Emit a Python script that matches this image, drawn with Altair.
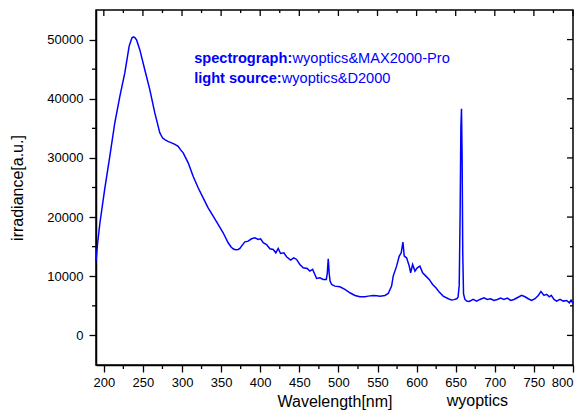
import altair as alt
import pandas as pd

wavelength = [190, 192, 195, 201, 207.7, 214, 220.5, 226.9, 232.4, 236, 238, 240, 242, 246, 252.4, 258.8,
              265.2, 271.6, 275, 278, 282, 286.6, 291, 295, 298, 301.5, 307.9, 314.2, 320.6, 327, 333.4,
              339.8, 346.2, 352.6, 359, 363, 365.4, 368, 371.8, 374, 376.1, 380.4, 384.6, 388.9, 393.2,
              397.4, 400.5, 403.8, 408.1, 412.4, 416.6, 420, 423, 426, 430.3, 433.7, 438.8, 443, 446.5,
              450.7, 455, 460.1, 463.5, 467, 469.9, 472.1, 476.3, 480.5, 484.5, 485.8, 487, 488.2, 489.3,
              491.3, 495.5, 501.9, 508.3, 514.7, 521.1, 527.5, 533.9, 538.1, 544.5, 549, 553.1, 559.5,
              563.7, 568, 570.1, 574.4, 577.8, 580.3, 582.5, 584.2, 587.2, 590.6, 592.4, 594.9, 597.9,
              600.8, 604.2, 607.7, 611.9, 616.1, 620.5, 624.7, 628.9, 634, 640.5, 644.8, 648, 651.2, 653,
              654.5, 655.6, 656.6, 657.4, 658.2, 659, 660, 661.8, 664, 667.3, 672.4, 676.7, 681, 686.1,
              690.3, 694.7, 698.9, 703.2, 707.4, 711.7, 716, 720.3, 724.5, 728.7, 734.3, 738.6, 742.8,
              747.1, 751.4, 755.6, 759, 762.9, 766.3, 769.7, 772.2, 775.7, 779.1, 783.4, 787.6, 791.9,
              795.3, 797.5, 800]
irradiance = [12500, 15500, 19000, 24600, 30300, 35900, 40400, 44400, 48900, 50300, 50450, 50300, 49900,
              48300, 44900, 41550, 37600, 34240, 33400, 33100, 32800, 32550, 32300, 31950, 31400, 30860,
              29170, 26910, 24950, 23260, 21570, 20150, 18750, 17350, 15660, 14900, 14640, 14500, 14530,
              14700, 15090, 15820, 15930, 16330, 16500, 16220, 16330, 15660, 15370, 14640, 14530, 13960,
              14700, 13850, 13960, 13290, 12720, 13120, 12840, 11990, 11430, 11320, 10870, 11150, 10300,
              9630, 9740, 9460, 9460, 10500, 12950, 10500, 9200, 8610, 8330, 8220, 7770, 7210, 6760, 6550,
              6530, 6640, 6760, 6700, 6640, 6760, 7090, 8330, 10020, 11710, 13400, 13960, 15760, 13400,
              13120, 11710, 10590, 11990, 10870, 11430, 11710, 10590, 10020, 9460, 8610, 8050, 7320, 6640,
              6200, 5970, 6050, 6200, 6450, 8500, 20000, 35000, 38300, 30000, 14000, 7000, 6080, 5800, 5740,
              6080, 5800, 6080, 6370, 6080, 6200, 5910, 6080, 6310, 6080, 6310, 5910, 6080, 6370, 6760,
              6530, 6200, 5910, 6200, 6760, 7430, 6760, 6930, 6530, 6760, 6080, 5800, 6080, 5800, 5910,
              5520, 5970, 5400]

x_major = [200, 250, 300, 350, 400, 450, 500, 550, 600, 650, 700, 750, 800]
x_minor = [225, 275, 325, 375, 425, 475, 525, 575, 625, 675, 725, 775]
y_major = [0, 10000, 20000, 30000, 40000, 50000]
y_minor = [5000, 15000, 25000, 35000, 45000]

ann_bold = ["spectrograph:", "light source:"]
ann_norm = ["wyoptics&MAX2000-Pro", "wyoptics&D2000"]
ann_x_bold = [315.5, 315.5]
ann_x_norm = [441.2, 427.5]
ann_y = [46060, 42690]

W, H = 477, 355
FONT = "Liberation Sans"
TITLE_Y = 41

df = pd.DataFrame({"wl": wavelength, "val": irradiance})

xs = alt.Scale(domain=[190, 800], nice=False, zero=False)
ys = alt.Scale(domain=[-5000, 55000], nice=False, zero=False)
xaxis = alt.Axis(values=x_major, title="Wavelength[nm]", titleFont=FONT, titleFontSize=16,
                 titleFontWeight="normal", titleColor="black", titleBaseline="alphabetic", titleY=TITLE_Y,
                 labelFont=FONT, labelFontSize=13, labelColor="black", labelPadding=4,
                 labelAlign=alt.ExprRef(expr="datum.value >= 800 ? 'right' : 'center'"),
                 tickSize=7, tickWidth=1.3, tickColor="black", domainColor="black", domainWidth=1.5,
                 grid=False, labelFlush=False)
yaxis = alt.Axis(values=y_major, format="d", title="irradiance[a.u.]", titleFont=FONT, titleFontSize=16,
                 titleFontWeight="normal", titleColor="black", titleBaseline="alphabetic",
                 titleX=-74, titleY=H / 2, titleAngle=270,
                 labelFont=FONT, labelFontSize=13, labelColor="black", labelPadding=6,
                 tickSize=7, tickWidth=1.3, tickColor="black", domainColor="black", domainWidth=1.5,
                 grid=False, labelFlush=False)


def X(field="wl"):
    return alt.X(f"{field}:Q", scale=xs, axis=xaxis)


def Y(field="val"):
    return alt.Y(f"{field}:Q", scale=ys, axis=yaxis)


line = alt.Chart(df).mark_line(color="#0000ff", strokeWidth=1.5).encode(x=X(), y=Y())

xmaj = pd.DataFrame({"wl": x_major})
xmin = pd.DataFrame({"wl": x_minor})
ymaj = pd.DataFrame({"val": y_major})
ymin = pd.DataFrame({"val": y_minor})

tick = dict(color="black", strokeWidth=1.3)
top_major = alt.Chart(xmaj).mark_rule(**tick).encode(x=X(), y=alt.value(0), y2=alt.value(6))
top_minor = alt.Chart(xmin).mark_rule(**tick).encode(x=X(), y=alt.value(0), y2=alt.value(3))
bot_minor = alt.Chart(xmin).mark_rule(**tick).encode(x=X(), y=alt.value(H), y2=alt.value(H + 4))
right_major = alt.Chart(ymaj).mark_rule(**tick).encode(y=Y(), x=alt.value(W), x2=alt.value(W - 6))
right_minor = alt.Chart(ymin).mark_rule(**tick).encode(y=Y(), x=alt.value(W), x2=alt.value(W - 3))
left_minor = alt.Chart(ymin).mark_rule(**tick).encode(y=Y(), x=alt.value(0), x2=alt.value(-4))

ann = pd.DataFrame({"bold": ann_bold, "norm": ann_norm, "xb": ann_x_bold, "xn": ann_x_norm, "val": ann_y})
t_bold = alt.Chart(ann).mark_text(align="left", baseline="alphabetic", font=FONT, fontSize=14.6,
                                  fontWeight="bold", color="#0000ff").encode(x=X("xb"), y=Y(), text="bold:N")
t_norm = alt.Chart(ann).mark_text(align="left", baseline="alphabetic", font=FONT, fontSize=14.6,
                                  color="#0000ff").encode(x=X("xn"), y=Y(), text="norm:N")

credit = alt.Chart(pd.DataFrame({"t": ["wyoptics"]})).mark_text(
    align="left", baseline="alphabetic", font=FONT, fontSize=16, color="black"
).encode(x=alt.value(350.7), y=alt.value(H + TITLE_Y), text="t:N")

chart = alt.layer(line, top_major, top_minor, bot_minor, right_major, right_minor, left_minor,
                  t_bold, t_norm, credit).properties(
    width=W, height=H,
    autosize=alt.AutoSizeParams(type="none"),
    padding={"left": 88, "top": 2, "right": 3, "bottom": 45},
    background="white",
).configure_view(stroke="black", strokeWidth=1.5)

chart.save("out.html", embed_options={"renderer": "svg", "actions": False})
